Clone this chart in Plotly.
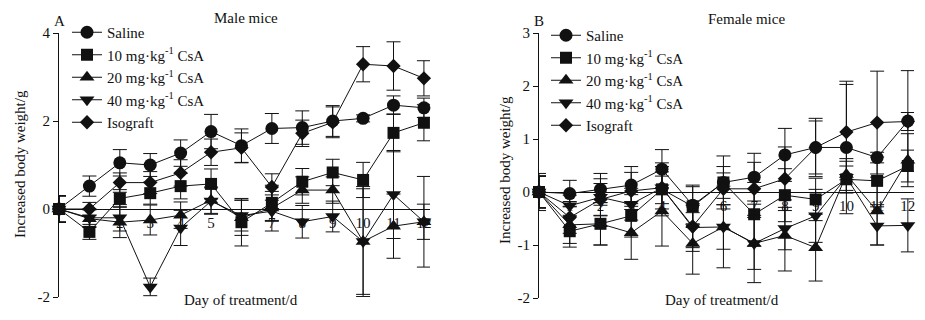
import plotly.graph_objects as go

# ---------------- data ----------------
days = list(range(13))
tick_days = list(range(1, 13))
series_names = ["Saline", "10 mg·kg<sup>-1</sup> CsA", "20 mg·kg<sup>-1</sup> CsA",
                "40 mg·kg<sup>-1</sup> CsA", "Isograft"]
male_yticks = [-2, 0, 2, 4]
male_yticktext = ["-2", "0", "2", "4"]
female_yticks = [-2, -1, 0, 1, 2, 3]
female_yticktext = ["-2", "-1", "0", "1", "2", "3"]

# Male mice (panel A)
male_saline = [0, 0.52, 1.05, 1.00, 1.27, 1.76, 1.44, 1.83, 1.85, 2.00, 2.06, 2.36, 2.30]
male_saline_err = [0.3, 0.23, 0.30, 0.26, 0.30, 0.39, 0.38, 0.34, 0.38, 0.35, 0.08, 0.21, 0.22]
male_csa10 = [0, -0.52, 0.24, 0.36, 0.52, 0.57, -0.30, 0.14, 0.62, 0.83, 0.66, 1.73, 1.96]
male_csa10_err = [0.3, 0.17, 0.20, 0.25, 0.29, 0.34, 0.54, 0.40, 0.30, 0.30, 0.40, 0.43, 0.41]
male_csa20 = [0, -0.22, -0.30, -0.25, -0.14, 0.20, -0.20, 0.02, 0.43, 0.43, -0.74, -0.39, -0.29]
male_csa20_err = [0.3, 0.20, 0.35, 0.34, 0.30, 0.30, 0.40, 0.30, 0.30, 0.30, 1.20, 0.73, 0.40]
male_csa40 = [0, -0.20, -0.20, -1.77, -0.43, 0.18, -0.15, -0.05, -0.29, -0.17, -0.74, 0.33, -0.29]
male_csa40_err = [0.3, 0.20, 0.30, 0.20, 0.40, 0.30, 0.35, 0.45, 0.37, 0.35, 1.25, 1.00, 1.03]
male_iso = [0, 0.0, 0.60, 0.60, 0.82, 1.29, 1.39, 0.50, 1.72, 1.97, 3.29, 3.25, 2.97]
male_iso_err = [0.3, 0.15, 0.22, 0.25, 0.30, 0.30, 0.34, 0.30, 0.30, 0.35, 0.40, 0.55, 0.40]

# Female mice (panel B)
female_saline = [0, -0.03, 0.05, 0.13, 0.43, -0.25, 0.18, 0.28, 0.70, 0.84, 0.84, 0.65, 1.34]
female_saline_err = [0.3, 0.25, 0.30, 0.35, 0.37, 0.35, 0.30, 0.45, 0.50, 0.55, 1.25, 0.10, 0.95]
female_csa10 = [0, -0.74, -0.60, -0.45, 0.05, -0.27, 0.18, -0.42, -0.06, -0.14, 0.24, 0.21, 0.49]
female_csa10_err = [0.35, 0.30, 0.40, 0.40, 0.50, 0.40, 0.50, 0.60, 0.50, 0.40, 0.25, 0.45, 0.30]
female_csa20 = [0, -0.62, -0.60, -0.77, -0.36, -0.97, -0.66, -0.97, -0.82, -1.05, 0.33, -0.36, 0.60]
female_csa20_err = [0.3, 0.35, 0.40, 0.50, 0.66, 0.58, 0.77, 0.74, 0.67, 0.63, 0.30, 0.64, 0.50]
female_csa40 = [0, -0.26, -0.10, -0.23, 0.08, -0.67, -0.66, -0.97, -0.69, -0.45, 0.28, -0.64, -0.63]
female_csa40_err = [0.3, 0.20, 0.35, 0.30, 0.30, 0.45, 0.42, 0.49, 0.40, 0.50, 0.30, 0.36, 0.50]
female_iso = [0, -0.48, -0.14, 0.02, 0.08, -0.65, 0.06, 0.06, 0.25, 0.84, 1.13, 1.31, 1.33]
female_iso_err = [0.3, 0.30, 0.30, 0.35, 0.40, 0.40, 0.30, 0.50, 0.60, 0.50, 0.90, 0.97, 0.17]

male_series = [(male_saline, male_saline_err), (male_csa10, male_csa10_err),
               (male_csa20, male_csa20_err), (male_csa40, male_csa40_err),
               (male_iso, male_iso_err)]
female_series = [(female_saline, female_saline_err), (female_csa10, female_csa10_err),
                 (female_csa20, female_csa20_err), (female_csa40, female_csa40_err),
                 (female_iso, female_iso_err)]

# ---------------- styling / layout ----------------
WIN_W, WIN_H = 925, 320
OFF = 8                      # page body margin of the html page
FW, FH = WIN_W - OFF, WIN_H - OFF
FONT = "Liberation Serif, Times New Roman, serif"
symbols = ["circle", "square", "triangle-up", "triangle-down", "diamond"]
sizes = [13, 12, 13, 13, 11]
INK = "#111111"


def fx(p):
    return (p - OFF) / FW


def fy(p):
    return 1 - (p - OFF) / FH


male_yrange = [-2, 4]
female_yrange = [-2, 3]
xrange_ = [0, 12.2]

left_xdom = [fx(59), fx(430)]
left_ydom = [fy(297), fy(33)]
right_xdom = [fx(539), fx(914)]
right_ydom = [fy(298), fy(33)]


def zero_pos(ydom, yr):
    return ydom[0] + (0 - yr[0]) / (yr[1] - yr[0]) * (ydom[1] - ydom[0])


fig = go.Figure()

for panel, series, xa, ya, leg in [("m", male_series, "x", "y", "legend"),
                                   ("f", female_series, "x2", "y2", "legend2")]:
    for i, (vals, errs) in enumerate(series):
        fig.add_trace(go.Scatter(
            x=days, y=vals, name=series_names[i], mode="lines+markers",
            xaxis=xa, yaxis=ya, legend=leg, legendgroup=f"{panel}{i}",
            line=dict(color=INK, width=1),
            marker=dict(symbol=symbols[i], size=sizes[i], color=INK,
                        line=dict(width=0)),
            error_y=dict(type="data", array=errs, color=INK, thickness=1, width=7),
            cliponaxis=False,
        ))

axis_common = dict(showgrid=False, zeroline=False, linecolor=INK, linewidth=1,
                   automargin=False,
                   tickfont=dict(family=FONT, size=15, color=INK))

fig.update_layout(
    width=FW, height=FH,
    margin=dict(l=0, r=0, t=0, b=0, autoexpand=False),
    paper_bgcolor="white", plot_bgcolor="white",
    font=dict(family=FONT, size=15, color=INK),
    xaxis=dict(domain=left_xdom, range=xrange_, anchor="free",
               position=zero_pos(left_ydom, male_yrange), showline=True,
               tickvals=tick_days, ticks="", layer="below traces", **axis_common),
    yaxis=dict(domain=left_ydom, range=male_yrange, anchor="x", showline=True,
               tickvals=male_yticks, ticktext=male_yticktext,
               ticks="outside", ticklen=5, tickcolor=INK, **axis_common),
    xaxis2=dict(domain=right_xdom, range=xrange_, anchor="free",
                position=zero_pos(right_ydom, female_yrange), showline=True,
                tickvals=tick_days, ticks="", layer="below traces", **axis_common),
    yaxis2=dict(domain=right_ydom, range=female_yrange, anchor="x2", showline=True,
                tickvals=female_yticks, ticktext=female_yticktext,
                ticks="outside", ticklen=5, tickcolor=INK, **axis_common),
    legend=dict(x=fx(67), y=fy(16), xanchor="left", yanchor="top",
                bgcolor="rgba(0,0,0,0)", font=dict(family=FONT, size=15, color=INK),
                itemwidth=30, tracegroupgap=0, traceorder="grouped"),
    legend2=dict(x=fx(546), y=fy(19), xanchor="left", yanchor="top",
                 bgcolor="rgba(0,0,0,0)", font=dict(family=FONT, size=15, color=INK),
                 itemwidth=30, tracegroupgap=0, traceorder="grouped"),
    showlegend=True,
)

ann = dict(xref="paper", yref="paper", showarrow=False, xanchor="center",
           yanchor="middle", font=dict(family=FONT, size=15, color=INK))
fig.add_annotation(text="A", x=fx(59), y=fy(21), **ann)
fig.add_annotation(text="Male mice", x=fx(246), y=fy(18), **ann)
fig.add_annotation(text="B", x=fx(539), y=fy(21), **ann)
fig.add_annotation(text="Female mice", x=fx(746), y=fy(19), **ann)
fig.add_annotation(text="Increased body weight/g", x=fx(20), y=fy(164),
                   textangle=-90, **ann)
fig.add_annotation(text="Increased body weight/g", x=fx(505), y=fy(170),
                   textangle=-90, **ann)
fig.add_annotation(text="Day of treatment/d", x=fx(241), y=fy(300), **ann)
fig.add_annotation(text="Day of treatment/d", x=fx(722), y=fy(300), **ann)

fig.write_html("out.html")
